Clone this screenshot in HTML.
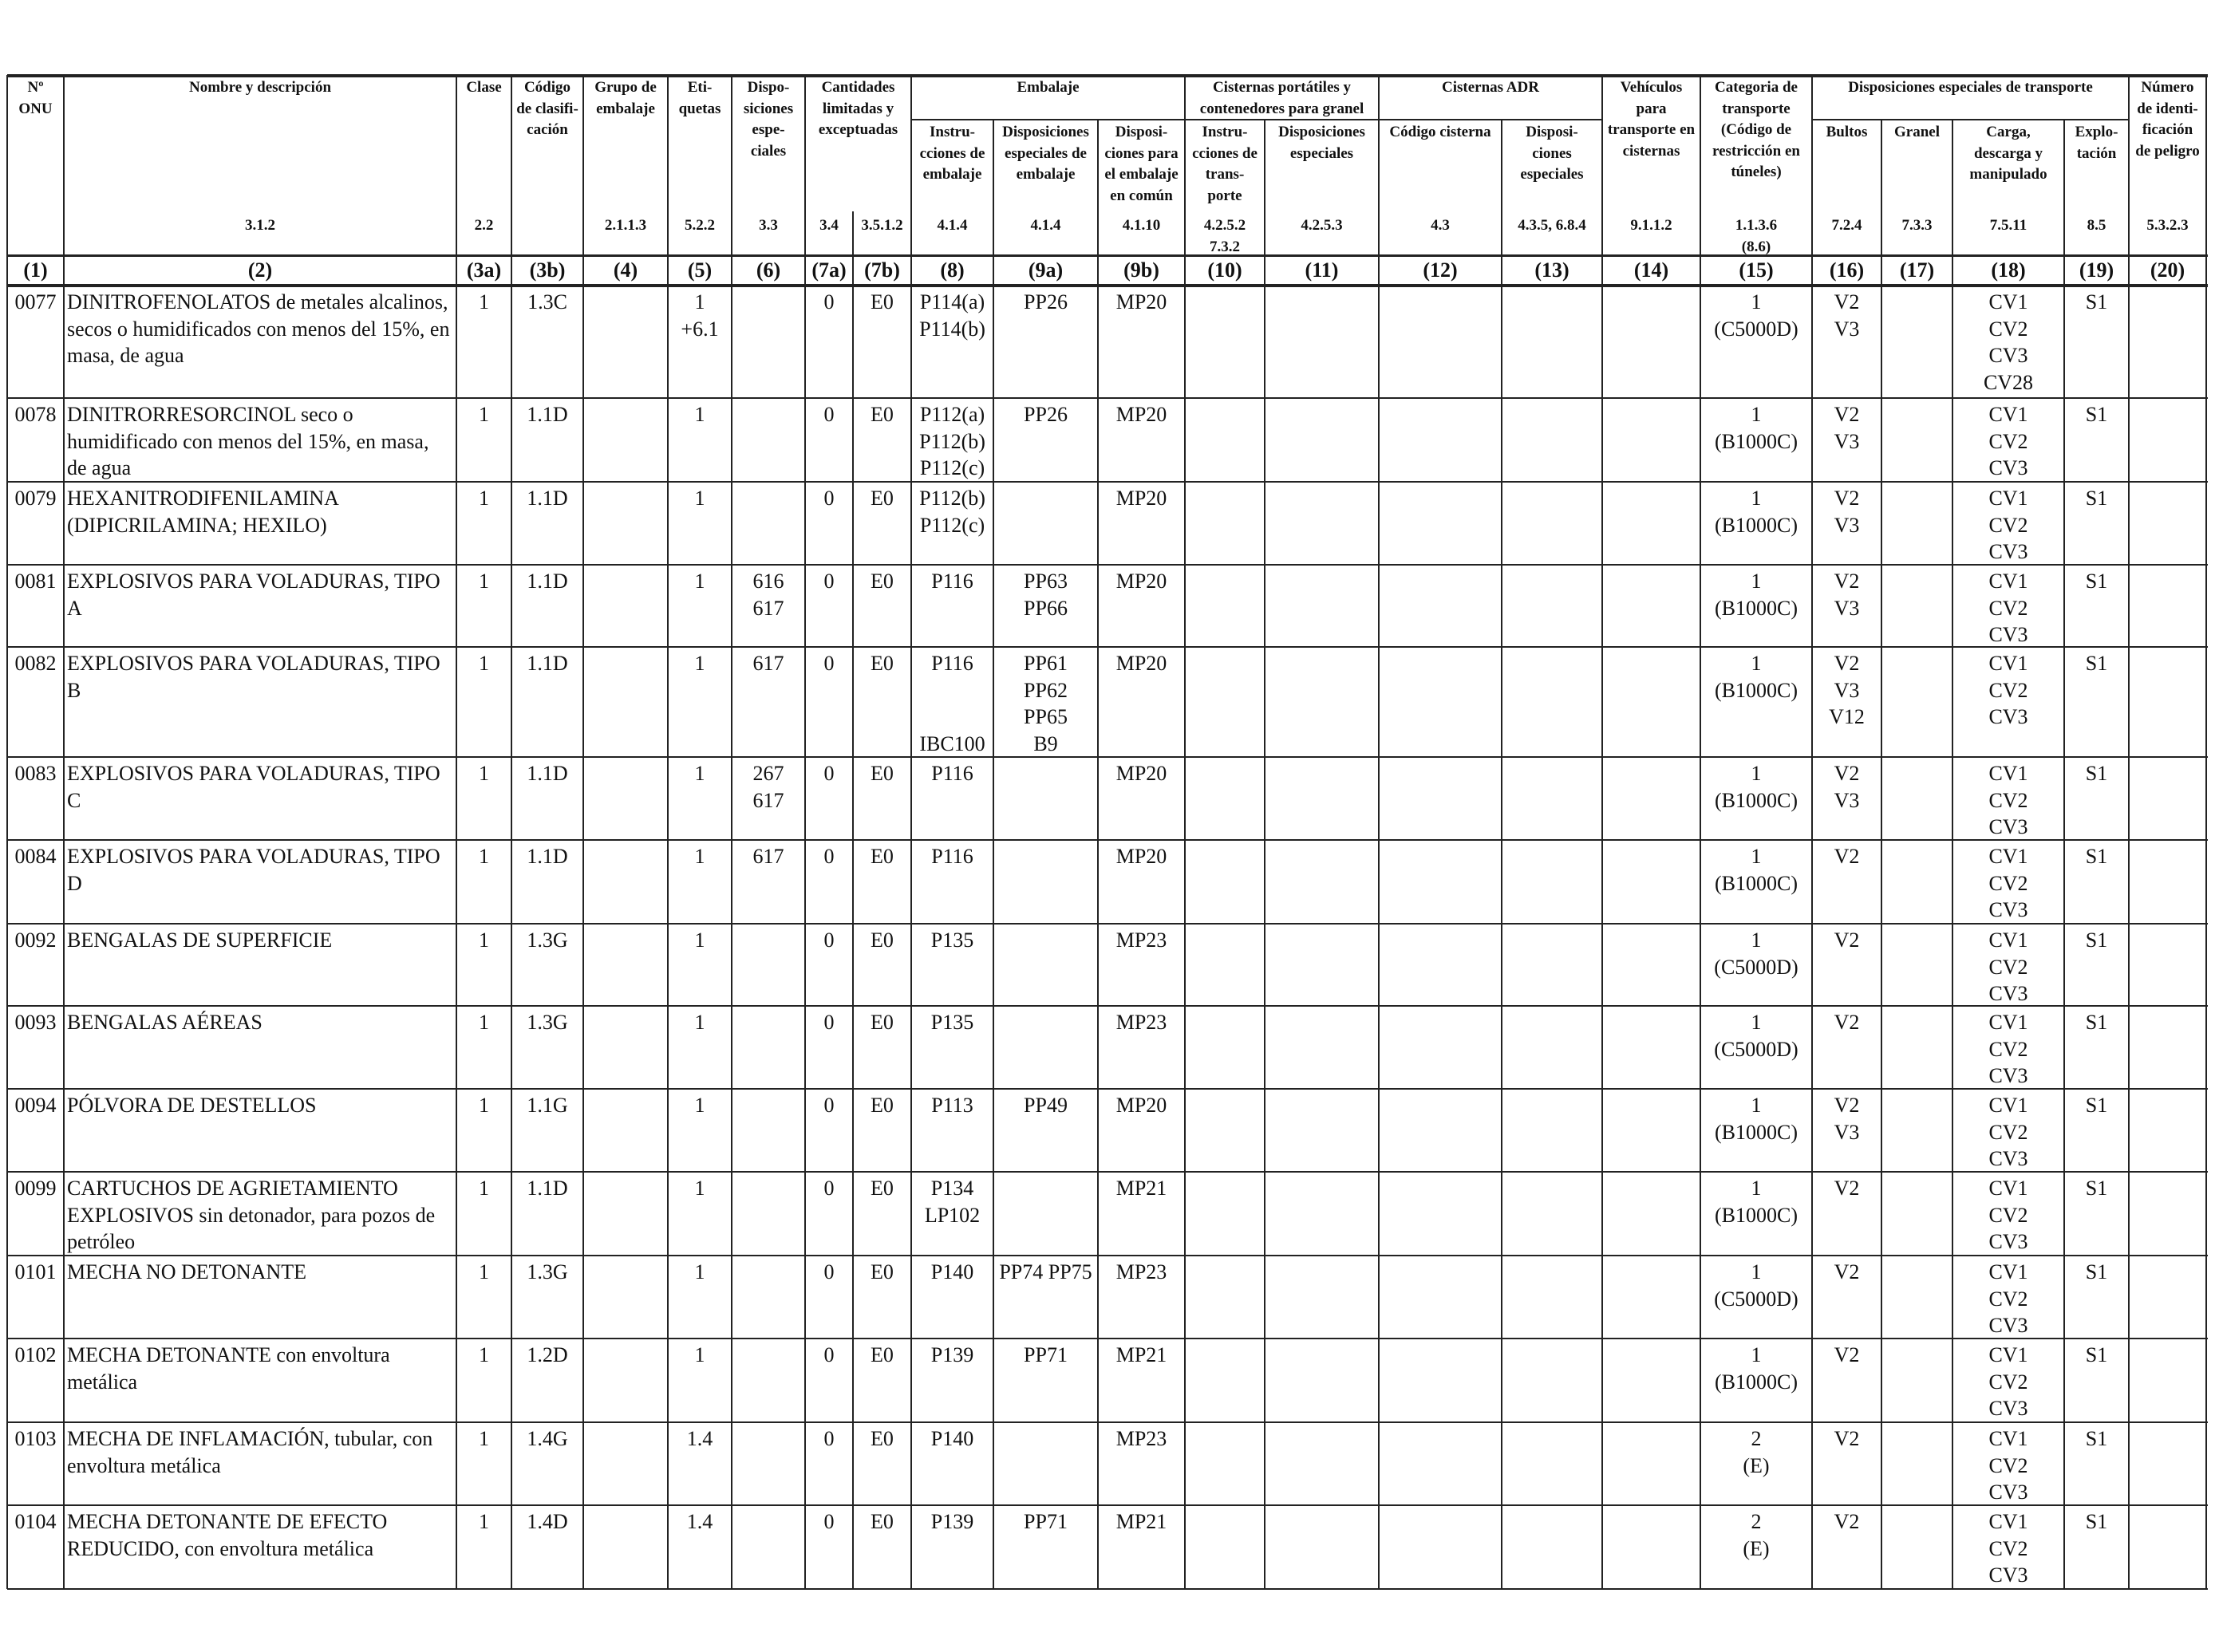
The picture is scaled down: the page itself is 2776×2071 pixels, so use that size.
<!DOCTYPE html>
<html><head><meta charset="utf-8">
<style>
html,body{margin:0;padding:0;background:#fff}
#page{position:relative;width:2776px;height:2071px;overflow:hidden;font-family:"Liberation Serif",serif;color:#111}
.ln{position:absolute;background:#222}
.c{position:absolute;text-align:center;font-size:26px;line-height:33.6px;white-space:nowrap}
.h{position:absolute;text-align:center;font-size:19px;line-height:26.5px;font-weight:bold;white-space:nowrap}
.n{position:absolute;text-align:center;font-size:26px;font-weight:bold;line-height:38px}
</style></head>
<body>
<div id="page"></div>
<script>
const colX=[9,80,572,641,731,837,917,1009,1069,1142,1245,1376,1485,1585,1728,1882,2008,2131,2271,2358,2447,2587,2668,2765];
const rowY=[358,499,604,708,811,949,1053,1158,1261,1365,1469,1574,1678,1783,1887,1992];
const colNums=["(1)","(2)","(3a)","(3b)","(4)","(5)","(6)","(7a)","(7b)","(8)","(9a)","(9b)","(10)","(11)","(12)","(13)","(14)","(15)","(16)","(17)","(18)","(19)","(20)"];
const sections=["","3.1.2","2.2","","2.1.1.3","5.2.2","3.3","3.4","3.5.1.2","4.1.4","4.1.4","4.1.10","4.2.5.2|7.3.2","4.2.5.3","4.3","4.3.5, 6.8.4","9.1.1.2","1.1.3.6|(8.6)","7.2.4","7.3.3","7.5.11","8.5","5.3.2.3"];
const headers=[
[0,0,97,"Nº|ONU"],[1,1,97,"Nombre y descripción"],[2,2,97,"Clase"],[3,3,97,"Código|de clasifi-|cación"],
[4,4,97,"Grupo de|embalaje"],[5,5,97,"Eti-|quetas"],[6,6,97,"Dispo-|siciones|espe-|ciales"],
[7,8,97,"Cantidades|limitadas y|exceptuadas"],[9,11,97,"Embalaje"],
[9,9,153,"Instru-|cciones de|embalaje"],[10,10,153,"Disposiciones|especiales de|embalaje"],[11,11,153,"Disposi-|ciones para|el embalaje|en común"],
[12,13,97,"Cisternas portátiles y|contenedores para granel"],[12,12,153,"Instru-|cciones de|trans-|porte"],[13,13,153,"Disposiciones|especiales"],
[14,15,97,"Cisternas ADR"],[14,14,153,"Código cisterna"],[15,15,153,"Disposi-|ciones|especiales"],
[16,16,97,"Vehículos|para|transporte en|cisternas"],[17,17,97,"Categoria de|transporte|(Código de|restricción en|túneles)"],
[18,21,97,"Disposiciones especiales de transporte"],[18,18,153,"Bultos"],[19,19,153,"Granel"],[20,20,153,"Carga,|descarga y|manipulado"],[21,21,153,"Explo-|tación"],
[22,22,97,"Número|de identi-|ficación|de peligro"]];
const onu=["0077","0078","0079","0081","0082","0083","0084","0092","0093","0094","0099","0101","0102","0103","0104"];
const names=["DINITROFENOLATOS de metales alcalinos,|secos o humidificados con menos del 15%, en|masa, de agua","DINITRORRESORCINOL seco o|humidificado con menos del 15%, en masa,|de agua","HEXANITRODIFENILAMINA|(DIPICRILAMINA; HEXILO)","EXPLOSIVOS PARA VOLADURAS, TIPO|A","EXPLOSIVOS PARA VOLADURAS, TIPO|B","EXPLOSIVOS PARA VOLADURAS, TIPO|C","EXPLOSIVOS PARA VOLADURAS, TIPO|D","BENGALAS DE SUPERFICIE","BENGALAS AÉREAS","PÓLVORA DE DESTELLOS","CARTUCHOS DE AGRIETAMIENTO|EXPLOSIVOS sin detonador, para pozos de|petróleo","MECHA NO DETONANTE","MECHA DETONANTE con envoltura|metálica","MECHA DE INFLAMACIÓN, tubular, con|envoltura metálica","MECHA DETONANTE DE EFECTO|REDUCIDO, con envoltura metálica"];
const codes=["1.3C","1.1D","1.1D","1.1D","1.1D","1.1D","1.1D","1.3G","1.3G","1.1G","1.1D","1.3G","1.2D","1.4G","1.4D"];
const labels=["1|+6.1","1","1","1","1","1","1","1","1","1","1","1","1","1.4","1.4"];
const special=["","","","616|617","617","267|617","617","","","","","","","",""];
const packInstr=["P114(a)|P114(b)","P112(a)|P112(b)|P112(c)","P112(b)|P112(c)","P116","P116| | |IBC100","P116","P116","P135","P135","P113","P134|LP102","P140","P139","P140","P139"];
const packSpec=["PP26","PP26","","PP63|PP66","PP61|PP62|PP65|B9","","","","","PP49","","PP74 PP75","PP71","","PP71"];
const mixed=["MP20","MP20","MP20","MP20","MP20","MP20","MP20","MP23","MP23","MP20","MP21","MP23","MP21","MP23","MP21"];
const category=["1|(C5000D)","1|(B1000C)","1|(B1000C)","1|(B1000C)","1|(B1000C)","1|(B1000C)","1|(B1000C)","1|(C5000D)","1|(C5000D)","1|(B1000C)","1|(B1000C)","1|(C5000D)","1|(B1000C)","2|(E)","2|(E)"];
const bultos=["V2|V3","V2|V3","V2|V3","V2|V3","V2|V3|V12","V2|V3","V2","V2","V2","V2|V3","V2","V2","V2","V2","V2"];
const carga=["CV1|CV2|CV3|CV28","CV1|CV2|CV3","CV1|CV2|CV3","CV1|CV2|CV3","CV1|CV2|CV3","CV1|CV2|CV3","CV1|CV2|CV3","CV1|CV2|CV3","CV1|CV2|CV3","CV1|CV2|CV3","CV1|CV2|CV3","CV1|CV2|CV3","CV1|CV2|CV3","CV1|CV2|CV3","CV1|CV2|CV3"];

const page=document.getElementById('page');
function esc(s){return s.replace(/&/g,'&amp;').replace(/</g,'&lt;').split('|').map(x=>x===' '?'&nbsp;':x).join('<br>');}
function line(x,y,w,h,name){const d=document.createElement('div');d.className='ln';


d.style.cssText=`left:${x}px;top:${y}px;width:${w}px;height:${h}px`;page.appendChild(d);}
function text(cls,l,t,w,s,name,align){const d=document.createElement('div');d.className=cls;


d.style.left=l+'px';d.style.top=t+'px';d.style.width=w+'px';if(align)d.style.textAlign=align;d.innerHTML=esc(s);page.appendChild(d);}
line(9,93,2758,4,'table-top-border');
line(9,319,2758,3,'header-bottom-border');
line(9,356,2758,4,'column-number-bottom-border');
for(let i=1;i<rowY.length;i++) line(9,rowY[i]-1,2758,2,'row-border');
[[9,11],[12,13],[14,15],[18,21]].forEach(g=>line(colX[g[0]],149,colX[g[1]+1]-colX[g[0]],2,'group-subheader-border'));
const noTop=[10,11,13,15,19,20,21];
for(let i=0;i<colX.length;i++){
 let top=94;
 if(noTop.includes(i))top=150;
 if(i===8)top=265;
 line(colX[i]-1,top,2,1992-top,'column-border');
}
headers.forEach(h=>{const l=colX[h[0]],w=colX[h[1]+1]-l;text('h',l,h[2],w,h[3],'column-header');});
sections.forEach((s,i)=>{if(s)text('h',colX[i],270,colX[i+1]-colX[i],s,'section-reference');});
colNums.forEach((s,i)=>text('n',colX[i],320,colX[i+1]-colX[i],s,'column-number'));
for(let r=0;r<onu.length;r++){
 const t=rowY[r]+4;
 const vals=[onu[r],names[r],"1",codes[r],"",labels[r],special[r],"0","E0",packInstr[r],packSpec[r],mixed[r],"","","","","",category[r],bultos[r],"",carga[r],"S1",""];
 vals.forEach((v,i)=>{if(!v)return;
  if(i===1) text('c',colX[1]+4,t,colX[2]-colX[1]-6,v,'substance-name','left');
  else text('c',colX[i],t,colX[i+1]-colX[i],v,'cell-value');
 });
}
</script>
</body></html>
